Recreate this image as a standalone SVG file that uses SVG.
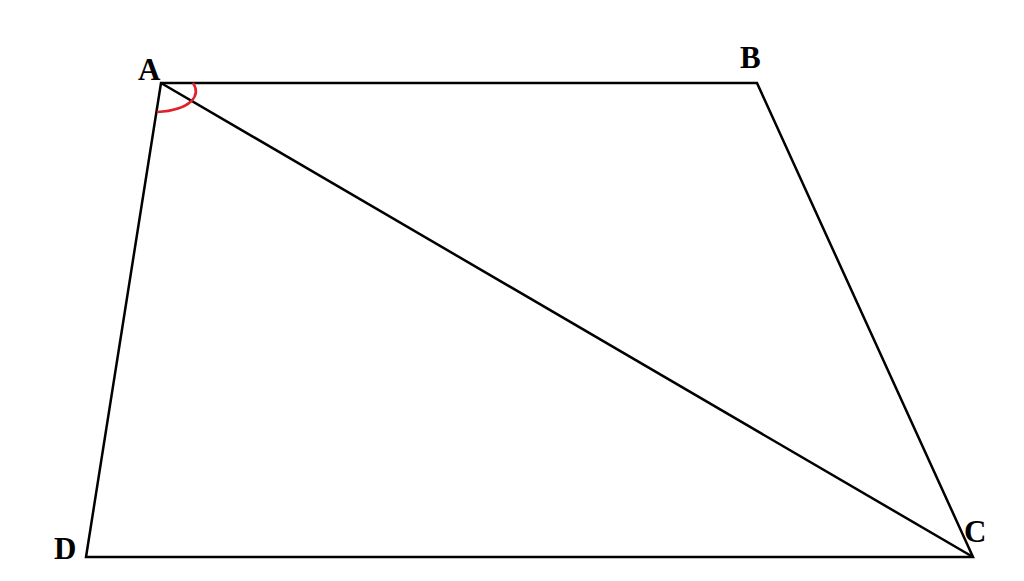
<svg xmlns="http://www.w3.org/2000/svg" width="1024" height="581" viewBox="0 0 1024 581">
<style>
.e{stroke:#000;stroke-width:2.5;fill:none;stroke-linejoin:miter}
.l{font-family:"Liberation Serif",serif;font-weight:bold;font-size:31px;fill:#000}
</style>
<rect width="1024" height="581" fill="#fff"/>
<g id="edges">
<polygon class="e" points="161,83 757,83 973,557 86,557"/>
<line class="e" x1="161" y1="83" x2="973" y2="557"/>
<path d="M193,83 C201,95 192,110 157,112" stroke="#e0202a" stroke-width="2.5" fill="none"/>
</g>
<g id="A"><text class="l" x="138" y="80">A</text></g>
<g id="B"><text class="l" x="740" y="68">B</text></g>
<g id="C"><text class="l" x="964" y="542">C</text></g>
<g id="D"><text class="l" x="54" y="559">D</text></g>
</svg>
